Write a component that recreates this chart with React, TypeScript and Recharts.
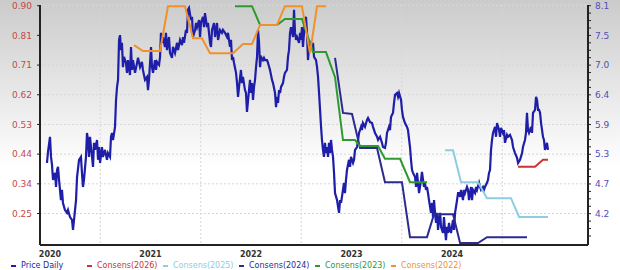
import React from 'react';
import { LineChart, Line, XAxis, YAxis, CartesianGrid } from 'recharts';

// [fractional year, price]
const priceDaily: [number, number][] = [
  [2019.970,0.408],[2019.980,0.443],[2020.000,0.490],[2020.010,0.427],[2020.020,0.402],[2020.030,0.355],[2020.050,0.377],[2020.060,0.333],[2020.070,0.386],[2020.080,0.396],
  [2020.090,0.355],[2020.109,0.292],[2020.119,0.324],[2020.129,0.283],[2020.149,0.261],[2020.169,0.252],[2020.179,0.261],[2020.199,0.239],[2020.219,0.230],[2020.229,0.199],
  [2020.239,0.230],[2020.259,0.292],[2020.269,0.364],[2020.289,0.418],[2020.308,0.427],[2020.318,0.377],[2020.328,0.333],[2020.338,0.355],[2020.358,0.427],[2020.368,0.502],
  [2020.378,0.480],[2020.388,0.427],[2020.398,0.490],[2020.418,0.427],[2020.428,0.396],[2020.438,0.471],[2020.448,0.449],[2020.468,0.480],[2020.478,0.418],[2020.488,0.458],
  [2020.498,0.408],[2020.517,0.458],[2020.527,0.427],[2020.547,0.449],[2020.567,0.418],[2020.577,0.439],[2020.597,0.427],[2020.607,0.490],[2020.617,0.502],[2020.627,0.480],
  [2020.647,0.521],[2020.657,0.605],[2020.667,0.646],[2020.677,0.668],[2020.687,0.793],[2020.697,0.808],[2020.706,0.761],[2020.716,0.784],[2020.726,0.708],[2020.736,0.740],
  [2020.756,0.721],[2020.766,0.690],[2020.776,0.730],[2020.796,0.683],[2020.806,0.771],[2020.816,0.699],[2020.826,0.730],[2020.846,0.690],[2020.866,0.721],[2020.876,0.737],
  [2020.896,0.708],[2020.915,0.724],[2020.925,0.699],[2020.945,0.668],[2020.965,0.677],[2020.975,0.636],[2020.985,0.668],[2021.005,0.771],[2021.015,0.708],[2021.025,0.690],
  [2021.045,0.730],[2021.055,0.699],[2021.065,0.724],[2021.085,0.715],[2021.095,0.740],[2021.104,0.815],[2021.114,0.784],[2021.124,0.802],[2021.144,0.771],[2021.154,0.815],
  [2021.164,0.761],[2021.184,0.802],[2021.194,0.752],[2021.214,0.737],[2021.224,0.771],[2021.244,0.752],[2021.264,0.784],[2021.274,0.761],[2021.294,0.793],[2021.313,0.777],
  [2021.323,0.802],[2021.333,0.784],[2021.353,0.824],[2021.363,0.815],[2021.373,0.887],[2021.383,0.893],[2021.403,0.855],[2021.413,0.865],[2021.423,0.802],[2021.443,0.824],
  [2021.453,0.846],[2021.463,0.833],[2021.483,0.855],[2021.493,0.802],[2021.502,0.846],[2021.522,0.865],[2021.532,0.833],[2021.542,0.877],[2021.562,0.833],[2021.572,0.846],
  [2021.592,0.784],[2021.602,0.771],[2021.612,0.824],[2021.632,0.846],[2021.642,0.802],[2021.662,0.846],[2021.672,0.793],[2021.692,0.824],[2021.711,0.815],[2021.721,0.824],
  [2021.741,0.815],[2021.761,0.802],[2021.771,0.815],[2021.791,0.771],[2021.801,0.793],[2021.811,0.730],[2021.821,0.740],[2021.831,0.721],[2021.851,0.690],[2021.861,0.658],
  [2021.871,0.615],[2021.881,0.646],[2021.900,0.699],[2021.910,0.658],[2021.920,0.677],[2021.940,0.636],[2021.950,0.627],[2021.960,0.568],[2021.980,0.636],[2021.990,0.668],
  [2022.000,0.627],[2022.010,0.658],[2022.020,0.605],[2022.030,0.646],[2022.040,0.668],[2022.050,0.708],[2022.060,0.740],[2022.070,0.824],[2022.080,0.784],[2022.090,0.708],
  [2022.100,0.740],[2022.119,0.730],[2022.129,0.737],[2022.139,0.730],[2022.159,0.730],[2022.169,0.721],[2022.189,0.699],[2022.209,0.668],[2022.219,0.658],[2022.239,0.627],
  [2022.249,0.583],[2022.259,0.615],[2022.269,0.596],[2022.279,0.636],[2022.289,0.627],[2022.299,0.646],[2022.318,0.658],[2022.328,0.677],[2022.338,0.690],[2022.358,0.699],
  [2022.368,0.740],[2022.378,0.761],[2022.388,0.815],[2022.398,0.833],[2022.418,0.802],[2022.428,0.887],[2022.438,0.815],[2022.448,0.793],[2022.458,0.802],[2022.478,0.784],
  [2022.488,0.815],[2022.498,0.793],[2022.507,0.833],[2022.517,0.771],[2022.537,0.855],[2022.547,0.865],[2022.557,0.815],[2022.567,0.730],[2022.577,0.771],[2022.597,0.784],
  [2022.607,0.771],[2022.617,0.784],[2022.627,0.740],[2022.647,0.730],[2022.657,0.708],[2022.667,0.677],[2022.677,0.627],[2022.687,0.574],[2022.697,0.521],[2022.706,0.480],
  [2022.716,0.449],[2022.726,0.427],[2022.736,0.471],[2022.746,0.439],[2022.756,0.458],[2022.766,0.427],[2022.776,0.471],[2022.786,0.439],[2022.796,0.480],[2022.806,0.449],
  [2022.816,0.427],[2022.826,0.377],[2022.836,0.314],[2022.856,0.292],[2022.866,0.271],[2022.876,0.252],[2022.886,0.292],[2022.896,0.283],[2022.915,0.324],[2022.925,0.346],
  [2022.935,0.314],[2022.945,0.355],[2022.955,0.386],[2022.975,0.418],[2022.985,0.396],[2022.995,0.427],[2023.015,0.408],[2023.025,0.418],[2023.035,0.449],[2023.055,0.458],
  [2023.065,0.480],[2023.075,0.502],[2023.095,0.521],[2023.104,0.511],[2023.114,0.533],[2023.134,0.521],[2023.154,0.543],[2023.164,0.549],[2023.184,0.536],[2023.204,0.533],
  [2023.214,0.521],[2023.234,0.502],[2023.254,0.490],[2023.264,0.480],[2023.284,0.490],[2023.303,0.471],[2023.313,0.458],[2023.333,0.455],[2023.343,0.471],[2023.353,0.502],
  [2023.373,0.521],[2023.383,0.511],[2023.393,0.552],[2023.413,0.565],[2023.423,0.596],[2023.433,0.621],[2023.453,0.627],[2023.463,0.615],[2023.473,0.627],[2023.493,0.605],
  [2023.502,0.574],[2023.512,0.552],[2023.532,0.533],[2023.552,0.521],[2023.562,0.511],[2023.582,0.458],[2023.592,0.418],[2023.602,0.386],[2023.612,0.377],[2023.632,0.364],
  [2023.642,0.333],[2023.652,0.377],[2023.662,0.346],[2023.672,0.314],[2023.692,0.355],[2023.701,0.380],[2023.721,0.333],[2023.731,0.346],[2023.741,0.324],[2023.751,0.333],
  [2023.761,0.314],[2023.771,0.292],[2023.791,0.252],[2023.801,0.283],[2023.811,0.239],[2023.821,0.292],[2023.831,0.252],[2023.841,0.221],[2023.851,0.252],[2023.861,0.199],
  [2023.871,0.230],[2023.881,0.252],[2023.891,0.208],[2023.910,0.189],[2023.920,0.239],[2023.930,0.199],[2023.940,0.167],[2023.950,0.208],[2023.960,0.189],[2023.970,0.221],
  [2023.980,0.199],[2023.990,0.189],[2024.010,0.230],[2024.020,0.199],[2024.030,0.252],[2024.040,0.271],[2024.050,0.292],[2024.060,0.314],[2024.070,0.314],[2024.080,0.302],
  [2024.090,0.324],[2024.109,0.292],[2024.119,0.324],[2024.129,0.314],[2024.149,0.333],[2024.159,0.324],[2024.169,0.292],[2024.189,0.333],[2024.199,0.292],[2024.209,0.324],
  [2024.229,0.314],[2024.239,0.333],[2024.249,0.324],[2024.269,0.346],[2024.279,0.333],[2024.289,0.324],[2024.308,0.333],[2024.318,0.324],[2024.328,0.333],[2024.348,0.346],
  [2024.358,0.355],[2024.368,0.377],[2024.378,0.386],[2024.388,0.449],[2024.398,0.480],[2024.408,0.502],[2024.428,0.521],[2024.438,0.490],[2024.448,0.533],[2024.468,0.511],
  [2024.478,0.490],[2024.488,0.518],[2024.507,0.502],[2024.517,0.511],[2024.527,0.471],[2024.547,0.496],[2024.557,0.490],[2024.577,0.496],[2024.597,0.480],[2024.607,0.458],
  [2024.627,0.439],[2024.647,0.424],[2024.657,0.408],[2024.677,0.418],[2024.697,0.439],[2024.706,0.458],[2024.726,0.480],[2024.736,0.502],[2024.746,0.565],[2024.756,0.511],
  [2024.766,0.502],[2024.786,0.521],[2024.796,0.502],[2024.806,0.565],[2024.826,0.574],[2024.836,0.615],[2024.846,0.605],[2024.856,0.574],[2024.866,0.574],[2024.876,0.565],
  [2024.886,0.533],[2024.896,0.511],[2024.905,0.490],[2024.915,0.480],[2024.925,0.449],[2024.945,0.471],[2024.955,0.449],
];

// consensus EPS estimates, [fractional year, eps]
const consens2026: [number, number][] = [
  [2024.657,5.08],[2024.826,5.08],[2024.905,5.21],[2024.955,5.21],
];
const consens2025: [number, number][] = [
  [2023.930,5.39],[2024.010,5.39],[2024.090,4.79],[2024.259,4.79],[2024.348,4.49],[2024.587,4.49],[2024.667,4.14],[2024.955,4.14],
];
const consens2024: [number, number][] = [
  [2022.836,7.12],[2022.915,6.09],[2023.005,6.07],[2023.085,5.43],[2023.254,5.43],[2023.333,4.79],[2023.502,4.79],[2023.582,3.76],
  [2023.751,3.76],[2023.821,4.19],[2024.010,4.19],[2024.080,3.65],[2024.259,3.65],[2024.348,3.76],[2024.746,3.76],
];
const consens2023: [number, number][] = [
  [2021.841,8.09],[2022.010,8.09],[2022.090,7.74],[2022.259,7.74],[2022.338,7.85],[2022.507,7.85],[2022.617,7.23],[2022.746,7.23],
  [2022.836,6.76],[2022.915,5.58],[2023.035,5.58],[2023.085,5.47],[2023.264,5.47],[2023.333,5.23],[2023.483,5.23],[2023.582,4.79],[2023.751,4.79],
];
const consens2022: [number, number][] = [
  [2020.836,7.36],[2020.925,7.25],[2021.095,7.25],[2021.174,8.09],[2021.343,8.09],[2021.423,7.49],[2021.512,7.49],[2021.592,7.21],
  [2021.821,7.21],[2021.920,7.38],[2022.010,7.38],[2022.090,7.74],[2022.259,7.74],[2022.338,8.09],[2022.507,8.09],[2022.587,7.21],
  [2022.657,8.09],[2022.746,8.09],
];

const yearTicks = [2020, 2021, 2022, 2023, 2024];
const midYears = [2020.5, 2021.5, 2022.5, 2023.5, 2024.5];
const priceTickLabels = ['0.90', '0.81', '0.71', '0.62', '0.53', '0.44', '0.34', '0.25'];
const epsTickLabels = ['8.1', '7.5', '7.0', '6.4', '5.9', '5.3', '4.7', '4.2'];

const X_DOMAIN: [number, number] = [2019.9005, 2025.353];
const PRICE_DOMAIN: [number, number] = [0.1515, 0.9022];
const EPS_DOMAIN: [number, number] = [3.613, 8.113];

const priceStep = (0.9 - 0.25) / 7;
const epsStep = (8.1 - 4.2) / 7;
const priceTicks = priceTickLabels.map((_, i) => 0.9 - i * priceStep);
// four minor ticks per labelled step on the right axis
const epsTicks = Array.from({ length: 32 }, (_, j) => 8.1 - (j * epsStep) / 4);

const series = [
  { name: 'Price Daily', color: '#1e1ea8', data: priceDaily, axis: 0, width: 2.2 },
  { name: 'Consens(2026)', color: '#cc3333', data: consens2026, axis: 'eps', width: 2 },
  { name: 'Consens(2025)', color: '#8ccde2', data: consens2025, axis: 'eps', width: 2 },
  { name: 'Consens(2024)', color: '#2b2b90', data: consens2024, axis: 'eps', width: 2 },
  { name: 'Consens(2023)', color: '#2e9a2e', data: consens2023, axis: 'eps', width: 2 },
  { name: 'Consens(2022)', color: '#f0922c', data: consens2022, axis: 'eps', width: 2 },
];

const toRows = (pts: [number, number][]) => pts.map(([t, v]) => ({ t, v }));

const font = 'DejaVu Sans, Verdana, sans-serif';

function epsLabel(v: number) {
  const k = Math.round((8.1 - v) / epsStep);
  return Math.abs(8.1 - k * epsStep - v) < 1e-6 && epsTickLabels[k] ? epsTickLabels[k] : '';
}

function priceLabel(v: number) {
  const k = Math.round((0.9 - v) / priceStep);
  return priceTickLabels[k] ?? '';
}

export default function App() {
  return (
    <div
      style={{
        position: 'absolute',
        left: 0,
        top: 0,
        width: 620,
        height: 270,
        background: 'linear-gradient(180deg, #cbcbcb 0%, #ffffff 62%)',
        fontFamily: font,
      }}
    >
      <LineChart width={620} height={258} margin={{ top: 5, right: 0, left: 0, bottom: 0 }}>
        <CartesianGrid
          stroke="#d6d6d6"
          strokeDasharray="2 2"
          verticalCoordinatesGenerator={({ xAxis, offset }: any) =>
            midYears.map((m) =>
              xAxis && typeof xAxis.scale === 'function'
                ? xAxis.scale(m)
                : offset.left + ((m - X_DOMAIN[0]) / (X_DOMAIN[1] - X_DOMAIN[0])) * offset.width
            )
          }
        />
        <XAxis
          dataKey="t"
          type="number"
          domain={X_DOMAIN}
          allowDataOverflow
          ticks={yearTicks}
          interval={0}
          tickFormatter={(v) => String(v)}
          tickLine={false}
          tickSize={6}
          tickMargin={0}
          height={13}
          axisLine={{ stroke: '#222', strokeWidth: 2 }}
          tick={{ fill: '#333', fontSize: 8, fontWeight: 'bold', fontFamily: font }}
        />
        <YAxis
          type="number"
          domain={PRICE_DOMAIN}
          allowDataOverflow
          ticks={priceTicks}
          interval={0}
          tickFormatter={priceLabel}
          width={40}
          tickSize={3}
          tickMargin={5}
          axisLine={{ stroke: '#222', strokeWidth: 2 }}
          tickLine={{ stroke: '#222' }}
          tick={{ fill: '#c24a4a', fontSize: 9, fontFamily: font }}
        />
        <YAxis
          yAxisId="eps"
          orientation="right"
          type="number"
          domain={EPS_DOMAIN}
          allowDataOverflow
          ticks={epsTicks}
          interval={0}
          tickFormatter={epsLabel}
          width={32}
          tickSize={3}
          tickMargin={4}
          axisLine={{ stroke: '#222', strokeWidth: 2 }}
          tickLine={{ stroke: '#222' }}
          tick={{ fill: '#4f4fb5', fontSize: 9, fontFamily: font }}
        />
        {series.map((s) => (
          <Line
            key={s.name}
            data={toRows(s.data)}
            dataKey="v"
            yAxisId={s.axis}
            type="linear"
            stroke={s.color}
            strokeWidth={s.width}
            dot={false}
            activeDot={false}
            isAnimationActive={false}
          />
        ))}
      </LineChart>
      <div style={{ position: 'absolute', left: 11, top: 260, height: 12, display: 'flex' }}>
        {series.map((s) => (
          <div
            key={s.name}
            style={{ width: 76, display: 'flex', alignItems: 'center', fontSize: 8, lineHeight: '12px', color: s.color, whiteSpace: 'nowrap' }}
          >
            <span style={{ display: 'inline-block', width: 5, height: 2, background: s.color, marginRight: 5 }} />
            {s.name}
          </div>
        ))}
      </div>
    </div>
  );
}
